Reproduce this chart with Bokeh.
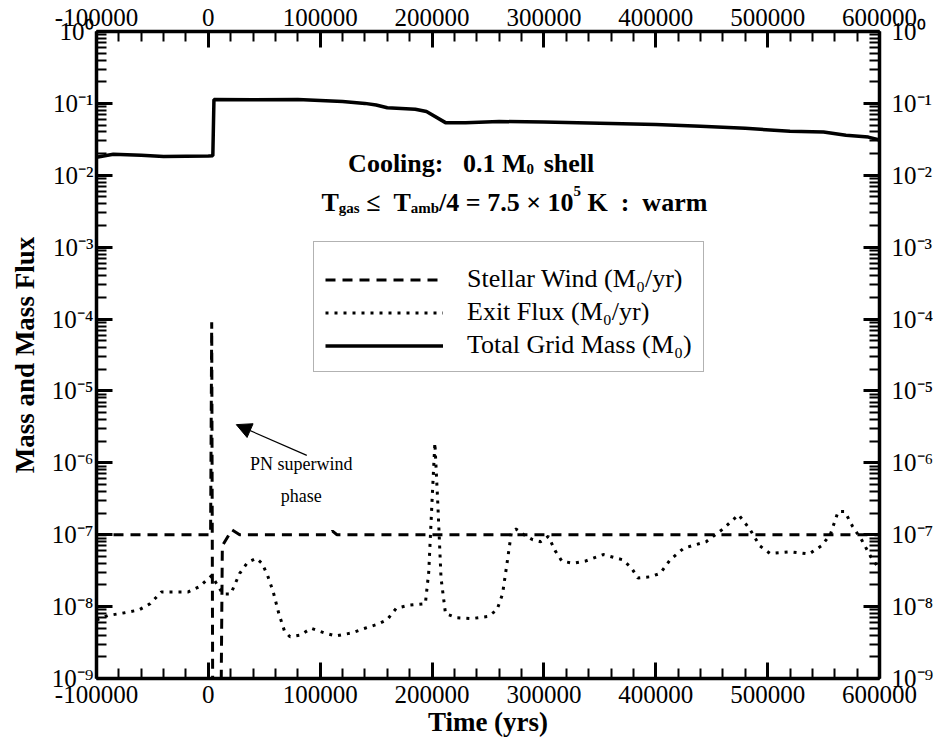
from bokeh.plotting import figure
from bokeh.models import (Range1d, LinearAxis, LogAxis, FixedTicker, Legend, LegendItem,
                          Label, Arrow, NormalHead)
from bokeh.embed import file_html
from bokeh.resources import INLINE

# ---------------- data ----------------
wind_t = [-100000, 2000, 3000, 4000, 11000, 12500, 21000, 28000, 107000, 111000, 115000, 600000]
wind_v = [1e-7, 1e-7, 9e-5, 1e-10, 1e-10, 7e-8, 1.17e-7, 1e-7, 1e-7, 1.12e-7, 1e-7, 1e-7]

exit_t = [-100000, -90000, -75000, -62000, -52000, -42000, -30000, -18000, -8000, 3000,
          8000, 13000, 20000, 28000, 35000, 43000, 48000, 53000, 58000, 63000,
          68000, 73000, 82000, 92000, 104000, 114000, 128000, 140000, 150000, 160000,
          168000, 180000, 194000, 197000, 200000, 202500, 205000, 208000, 212000, 222000,
          235000, 250000, 258000, 263000, 267000, 271000, 275000, 282000, 290000, 297000,
          304000, 310000, 316000, 326000, 337000, 353000, 370000, 378000, 384000, 395000,
          404000, 413000, 425000, 445000, 460000, 474000, 484000, 493000, 502000, 520000,
          537000, 548000, 556000, 563000, 569000, 576000, 584000, 592000, 600000]
exit_v = [6.5e-9, 7.5e-9, 8.2e-9, 9e-9, 1.1e-8, 1.6e-8, 1.6e-8, 1.6e-8, 1.9e-8, 2.7e-8,
          2.0e-8, 1.5e-8, 1.5e-8, 2.9e-8, 4.1e-8, 4.7e-8, 4.0e-8, 2.7e-8, 1.6e-8, 8e-9,
          4.6e-9, 3.8e-9, 4.0e-9, 5e-9, 4.3e-9, 3.9e-9, 4.3e-9, 5.0e-9, 5.6e-9, 6.6e-9,
          9.5e-9, 1.05e-8, 1.1e-8, 3e-8, 3e-7, 1.9e-6, 3e-7, 2.5e-8, 8e-9, 7e-9,
          6.8e-9, 7.3e-9, 9e-9, 1.5e-8, 4e-8, 1.1e-7, 1.2e-7, 1.0e-7, 8.5e-8, 8e-8,
          9.5e-8, 6e-8, 4.3e-8, 4.0e-8, 4.3e-8, 5.3e-8, 4.5e-8, 3.5e-8, 2.5e-8, 2.6e-8,
          2.9e-8, 4.5e-8, 6.5e-8, 8e-8, 1.2e-7, 1.9e-7, 1.2e-7, 7e-8, 5.5e-8, 5.8e-8,
          5.4e-8, 7e-8, 1e-7, 2.1e-7, 2.1e-7, 1.3e-7, 8.5e-8, 5e-8, 3.3e-8]

mass_t = [-100000, -85000, -60000, -40000, 0, 4000, 5000, 40000, 80000, 100000,
          120000, 140000, 150000, 160000, 185000, 195000, 212000, 230000, 260000, 300000,
          350000, 400000, 440000, 480000, 520000, 550000, 570000, 590000, 600000]
mass_v = [0.0178, 0.0196, 0.019, 0.0183, 0.0186, 0.0187, 0.113, 0.112, 0.113, 0.11,
          0.106, 0.1, 0.095, 0.087, 0.083, 0.077, 0.054, 0.054, 0.056, 0.055,
          0.053, 0.051, 0.048, 0.045, 0.041, 0.04, 0.036, 0.034, 0.031]

xtick_values = [-100000, 0, 100000, 200000, 300000, 400000, 500000, 600000]
xtick_labels = ["-100000", "0", "100000", "200000", "300000", "400000", "500000", "600000"]
ytick_values = [1e-9, 1e-8, 1e-7, 1e-6, 1e-5, 1e-4, 1e-3, 1e-2, 1e-1, 1.0]
ytick_labels = ["10⁻⁹", "10⁻⁸", "10⁻⁷", "10⁻⁶", "10⁻⁵", "10⁻⁴", "10⁻³", "10⁻²", "10⁻¹", "10⁰"]

series_labels = ["Stellar Wind (M₀/yr)", "Exit Flux (M₀/yr)", "Total Grid Mass (M₀)"]

# ---------------- figure ----------------
FONT = "Liberation Serif"

p = figure(width=936, height=744, x_range=Range1d(-100000, 600000), y_range=Range1d(1e-9, 1.0),
           y_axis_type="log", output_backend="svg", toolbar_location=None,
           min_border_left=96, min_border_right=51, min_border_top=31, min_border_bottom=66)
p.xgrid.visible = False
p.ygrid.visible = False
p.outline_line_color = None
p.background_fill_color = "white"
p.border_fill_color = "white"

x_minor = [v for v in range(-100000, 600001, 20000)]
y_minor = [m * 10.0 ** e for e in range(-9, 0) for m in range(1, 10)] + [1.0]

top_axis = LinearAxis()
right_axis = LogAxis()
p.add_layout(top_axis, "above")
p.add_layout(right_axis, "right")


def style(ax, ticks, minor, labels, standoff):
    ax.ticker = FixedTicker(ticks=ticks, minor_ticks=minor)
    ax.major_label_overrides = {t: l for t, l in zip(ticks, labels)}
    ax.axis_line_width = 3.5
    ax.axis_line_color = "black"
    ax.major_tick_line_width = 3
    ax.minor_tick_line_width = 2
    ax.major_tick_in = 16
    ax.major_tick_out = 0
    ax.minor_tick_in = 10
    ax.minor_tick_out = 0
    ax.major_label_text_font = FONT
    ax.major_label_text_font_size = "25px"
    ax.major_label_text_color = "black"
    ax.major_label_standoff = standoff


for ax in p.below:
    style(ax, xtick_values, x_minor, xtick_labels, 7)
    ax.axis_label = "Time (yrs)"
    ax.axis_label_standoff = 1
style(top_axis, xtick_values, x_minor, xtick_labels, 6)
for ax in p.left:
    style(ax, ytick_values, y_minor, ytick_labels, 3)
    ax.axis_label = "Mass and Mass Flux"
    ax.axis_label_standoff = 9
style(right_axis, ytick_values, y_minor, ytick_labels, 12)

for ax in p.below + p.left:
    ax.axis_label_text_font = FONT
    ax.axis_label_text_font_style = "bold"
    ax.axis_label_text_font_size = "27px"
    ax.axis_label_text_color = "black"

# ---------------- series ----------------
r_wind = p.line(wind_t, wind_v, line_color="black", line_width=3, line_dash="10 7")
r_exit = p.line(exit_t, exit_v, line_color="black", line_width=3, line_dash="3 6")
r_mass = p.line(mass_t, mass_v, line_color="black", line_width=3.5)

legend = Legend(items=[LegendItem(label=series_labels[0], renderers=[r_wind]),
                       LegendItem(label=series_labels[1], renderers=[r_exit]),
                       LegendItem(label=series_labels[2], renderers=[r_mass])],
                location=(217, 306))
legend.title = " "
legend.title_text_font_size = "6px"
legend.title_standoff = 5
legend.label_text_font = FONT
legend.label_text_font_size = "26px"
legend.label_text_color = "black"
legend.glyph_width = 118
legend.glyph_height = 29
legend.label_height = 29
legend.spacing = 3
legend.padding = 11
legend.label_standoff = 24
legend.border_line_color = "#666666"
legend.border_line_width = 1.5
legend.background_fill_color = "white"
legend.background_fill_alpha = 1.0
p.add_layout(legend)

# ---------------- annotations ----------------
TB = {' ': 250, 'T': 667, 'g': 500, 'a': 500, 's': 389, '≤': 549, 'm': 833, 'b': 556, '/': 278,
      '=': 570, '.': 250, '×': 570, 'K': 778, ':': 333, 'w': 722, 'r': 444, 'C': 722, 'o': 500,
      'l': 278, 'i': 278, 'n': 556, 'h': 556, 'e': 444, 'M': 944}


def tw(txt, size):
    return sum(TB.get(c, 500) for c in txt) * size / 1000.0


PX_PER_DEC = 71.9
BIG, SMALL = 26, 15


def compose(pieces, x_center, y_base, gap_scale=1.0):
    sizes = [BIG if k == "n" else SMALL for _, k, _ in pieces]
    total = sum(tw(t, s) + g * gap_scale * BIG / 4.0 for (t, k, g), s in zip(pieces, sizes))
    off = -total / 2.0
    for (t, k, g), s in zip(pieces, sizes):
        if k == "sub":
            y = y_base * 10 ** (-6 / PX_PER_DEC)
        elif k == "sup":
            y = y_base * 10 ** (11 / PX_PER_DEC)
        else:
            y = y_base
        p.add_layout(Label(x=x_center, y=y, x_offset=off, text=t, text_font=FONT,
                           text_font_style="bold", text_font_size=f"{s}px",
                           text_color="black", text_align="left", text_baseline="alphabetic"))
        off += tw(t, s) + g * gap_scale * BIG / 4.0


compose([("Cooling:", "n", 3), ("0.1 M", "n", 0), ("0", "sub", 1.5), ("shell", "n", 0)],
        235000, 0.0146)
compose([("T", "n", 0), ("gas", "sub", 1), ("≤", "n", 2), ("T", "n", 0), ("amb", "sub", 0),
         ("/4 = 7.5 × 10", "n", 0), ("5", "sup", 1), ("K", "n", 2), (":", "n", 2), ("warm", "n", 0)],
        273600, 0.0042)

p.add_layout(Arrow(end=NormalHead(size=15, fill_color="black", line_color="black", line_width=1),
                   x_start=88000, y_start=1.27e-6, x_end=25000, y_end=3.4e-6,
                   line_color="black", line_width=1.2))
p.add_layout(Label(x=83000, y=9.6e-7, text="PN superwind", text_font=FONT, text_font_size="18px",
                   text_color="black", text_align="center", text_baseline="middle"))
p.add_layout(Label(x=83000, y=3.5e-7, text="phase", text_font=FONT, text_font_size="18px",
                   text_color="black", text_align="center", text_baseline="middle"))

open("out.html", "w").write(file_html(p, INLINE))
